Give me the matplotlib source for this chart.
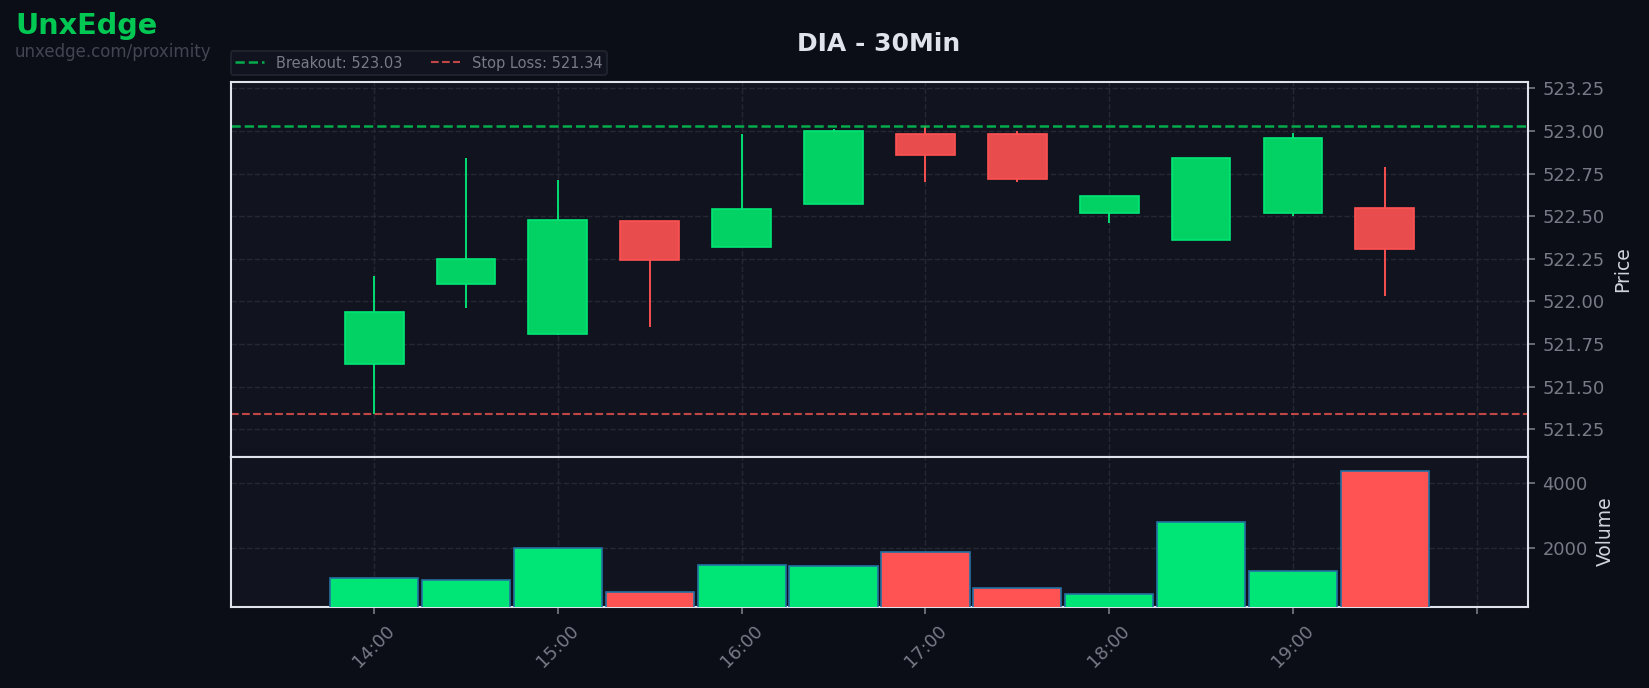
import matplotlib.pyplot as plt

# 30 minute candles, DIA
times = ['14:00', '14:30', '15:00', '15:30', '16:00', '16:30',
         '17:00', '17:30', '18:00', '18:30', '19:00', '19:30']
opens = [521.63, 522.10, 521.81, 522.47, 522.32, 522.57, 522.98, 522.98, 522.52, 522.36, 522.52, 522.55]
closes = [521.94, 522.25, 522.48, 522.24, 522.54, 523.00, 522.86, 522.72, 522.62, 522.84, 522.96, 522.31]
highs = [522.15, 522.84, 522.71, 522.47, 522.98, 523.01, 523.03, 523.00, 522.62, 522.84, 522.99, 522.79]
lows = [521.34, 521.96, 521.80, 521.85, 522.32, 522.57, 522.70, 522.70, 522.46, 522.36, 522.50, 522.03]
volumes = [1068, 1006, 1991, 656, 1467, 1436, 1856, 759, 574, 2791, 1283, 4360]

breakout = 523.03
stop_loss = 521.34

hour_ticks = [14, 15, 16, 17, 18, 19, 20]
hour_labels = ['14:00', '15:00', '16:00', '17:00', '18:00', '19:00', '']

BG = '#0b0e17'
PANEL = '#11141f'
GREEN = '#00e676'
RED = '#ff5252'
GRID = '#2a2e39'
TXT = '#787b86'

x = [int(t[:2]) + int(t[3:]) / 60 for t in times]
up = [c >= o for o, c in zip(opens, closes)]
cols = [GREEN if u else RED for u in up]
fills = ['#02d163' if u else '#e84c4d' for u in up]

fig = plt.figure(figsize=(1649 / 150, 688 / 150), dpi=150, facecolor=BG)
ax = fig.add_axes([0.1398, 0.3362, 0.9266 - 0.1398, 0.8813 - 0.3362])
axv = fig.add_axes([0.1398, 0.1182, 0.9266 - 0.1398, 0.3362 - 0.1182], sharex=ax)

for a in (ax, axv):
    a.set_facecolor(PANEL)
    a.grid(True, color=GRID, linestyle='--', linewidth=0.7, alpha=0.8)
    a.set_axisbelow(True)
    for s in a.spines.values():
        s.set_color('#e0e3eb')
        s.set_linewidth(1.0)
    a.yaxis.tick_right()
    a.yaxis.set_label_position('right')
    a.tick_params(colors=TXT, labelsize=8.6, length=3.5)

# candles
ax.vlines(x, lows, highs, colors=cols, linewidth=0.9, zorder=2)
ax.bar(x, [abs(c - o) for o, c in zip(opens, closes)], bottom=[min(o, c) for o, c in zip(opens, closes)],
       width=0.32, color=fills, edgecolor=cols, linewidth=0.8, zorder=3)

ax.axhline(breakout, color='#00c853', linestyle='--', linewidth=1.2, alpha=0.85,
           label=f'Breakout: {breakout:.2f}')
ax.axhline(stop_loss, color='#ef5350', linestyle='--', linewidth=1.0, alpha=0.8,
           label=f'Stop Loss: {stop_loss:.2f}')

ax.set_ylim(521.089, 523.289)
ax.set_yticks([521.25, 521.5, 521.75, 522.0, 522.25, 522.5, 522.75, 523.0, 523.25])
ax.set_yticklabels([f'{v:.2f}' for v in ax.get_yticks()])
ax.set_ylabel('Price', color='#d1d4dc', fontsize=9)
ax.tick_params(axis='x', labelbottom=False)

leg = ax.legend(loc='lower left', bbox_to_anchor=(0, 1.018), borderaxespad=0, ncol=2,
                fontsize=7, facecolor=PANEL, edgecolor='#1e222d', framealpha=1, labelcolor=TXT,
                borderpad=0.3)

# volume
axv.bar(x, volumes, width=0.48, color=cols, edgecolor='#2471a3', linewidth=0.8, zorder=3)
axv.set_ylim(190, 4800)
axv.set_yticks([2000, 4000])
axv.set_yticklabels(['2000', '4000'])
axv.set_ylabel('Volume', color='#d1d4dc', fontsize=9)

axv.set_xlim(13.2186, 20.279)
axv.set_xticks(hour_ticks)
axv.set_xticklabels(hour_labels, rotation=45, ha='center')

fig.text(0.533, 0.9265, 'DIA - 30Min', color='#e0e3eb', fontsize=12, fontweight='bold',
         ha='center', va='baseline')
fig.text(0.0091, 0.9500, 'UnxEdge', color='#00c853', fontsize=13.8, fontweight='bold',
         ha='left', va='baseline')
fig.text(0.0087, 0.9170, 'unxedge.com/proximity', color='#434651', fontsize=8,
         ha='left', va='baseline')

fig.savefig('out.png', dpi=150, facecolor=BG)
